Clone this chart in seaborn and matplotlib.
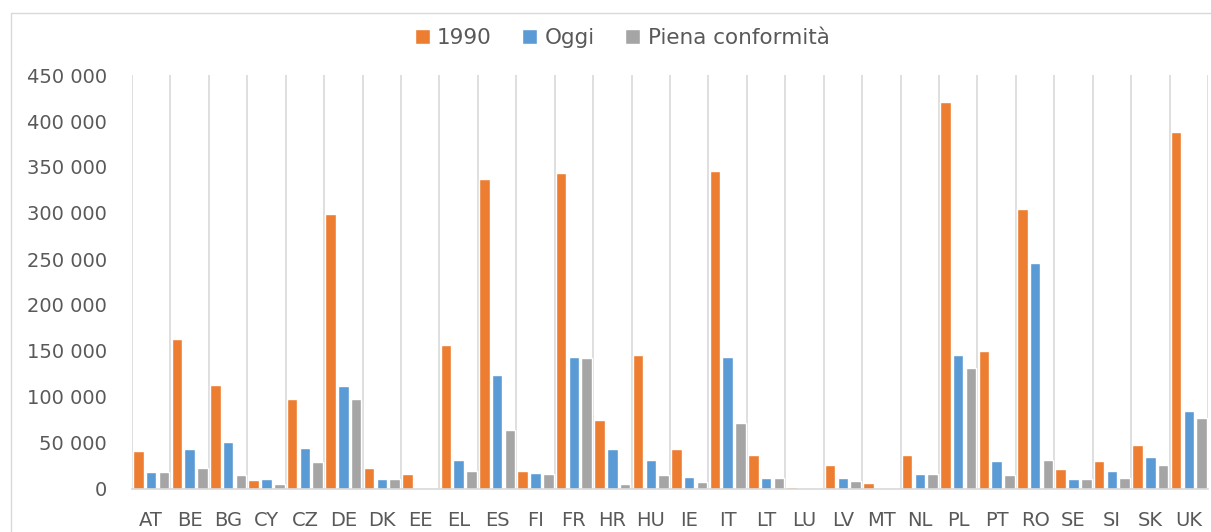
import matplotlib
matplotlib.use("Agg")
import matplotlib.pyplot as plt
from matplotlib.patches import Rectangle
from matplotlib.ticker import FuncFormatter, FixedLocator
import seaborn as sns
import pandas as pd
import numpy as np

countries = ["AT", "BE", "BG", "CY", "CZ", "DE", "DK", "EE", "EL", "ES", "FI", "FR", "HR", "HU",
             "IE", "IT", "LT", "LU", "LV", "MT", "NL", "PL", "PT", "RO", "SE", "SI", "SK", "UK"]
v1990 = [41000, 163000, 113000, 10000, 98000, 299000, 23000, 16000, 157000, 337000, 20000, 343000,
         75000, 146000, 44000, 346000, 37000, 2200, 26000, 7000, 37000, 421000, 150000, 304000,
         22000, 30000, 48000, 388000]
oggi = [18000, 43500, 50700, 10500, 44200, 112000, 10500, 1400, 31500, 124000, 17400, 143500,
        43100, 31200, 13000, 143500, 12300, 700, 11600, 700, 16300, 145300, 30400, 245700,
        10900, 19200, 35100, 84400]
piena = [18000, 22500, 15200, 5400, 29000, 97800, 10500, 1100, 19900, 64100, 16700, 142400,
         5100, 14800, 7600, 71400, 11600, 500, 8700, 500, 16300, 131200, 15600, 31900,
         10900, 11600, 26100, 76800]
series_names = ["1990", "Oggi", "Piena conformità"]
colors = ["#ED7D31", "#5B9BD5", "#A5A5A5"]
yticks = [0, 50000, 100000, 150000, 200000, 250000, 300000, 350000, 400000, 450000]

df = pd.DataFrame({
    "Paese": countries * 3,
    "Valore": v1990 + oggi + piena,
    "Serie": [series_names[0]] * len(countries) + [series_names[1]] * len(countries)
             + [series_names[2]] * len(countries),
})

sns.set_theme(style="white")
plt.rcParams["font.family"] = ["DejaVu Sans"]
text_color = "#595959"
grid_color = "#D9D9D9"

W, H = 1211, 532
fig = plt.figure(figsize=(W / 100, H / 100), dpi=100)
ax = fig.add_axes([132 / W, 1 - 489 / H, (1208 - 132) / W, (489 - 75) / H])

sns.barplot(data=df, x="Paese", y="Valore", hue="Serie", hue_order=series_names,
            order=countries, palette=colors, width=1.0, gap=0.18, saturation=1,
            ax=ax, legend=True)

handles, labels = ax.get_legend_handles_labels()
ax.get_legend().remove()

ax.set_xlim(-0.5, len(countries) - 0.5)
ax.set_ylim(0, 450000)
ax.set_yticks(yticks)
ax.yaxis.set_major_formatter(FuncFormatter(lambda v, p: f"{int(v):,}".replace(",", " ")))
ax.set_xlabel("")
ax.set_ylabel("")

ax.xaxis.set_minor_locator(FixedLocator(np.arange(-0.5, len(countries), 1.0)))
ax.grid(False)
ax.grid(which="minor", axis="x", color=grid_color, lw=1.2)
ax.set_axisbelow(True)
ax.tick_params(axis="x", which="major", length=0, pad=15.5, labelsize=14, labelcolor=text_color)
ax.tick_params(axis="x", which="minor", length=5, width=1, color=grid_color, direction="out")
ax.tick_params(axis="y", length=0, pad=18, labelsize=14, labelcolor=text_color)

for s in ["top", "right", "left"]:
    ax.spines[s].set_visible(False)
ax.spines["bottom"].set_color(grid_color)
ax.spines["bottom"].set_linewidth(1.2)

fig.legend(handles, labels, loc="center", bbox_to_anchor=(622 / W, 1 - 38 / H), ncol=3,
           frameon=False, fontsize=15.5, labelcolor=text_color, handlelength=0.7,
           handleheight=0.7, handletextpad=0.35, columnspacing=1.4)

fig.add_artist(Rectangle((11 / W, -0.1), 1.2, 1.1 - 13 / H, transform=fig.transFigure,
                         fill=False, ec=grid_color, lw=1))

fig.savefig("out.png", dpi=100, facecolor="white")
